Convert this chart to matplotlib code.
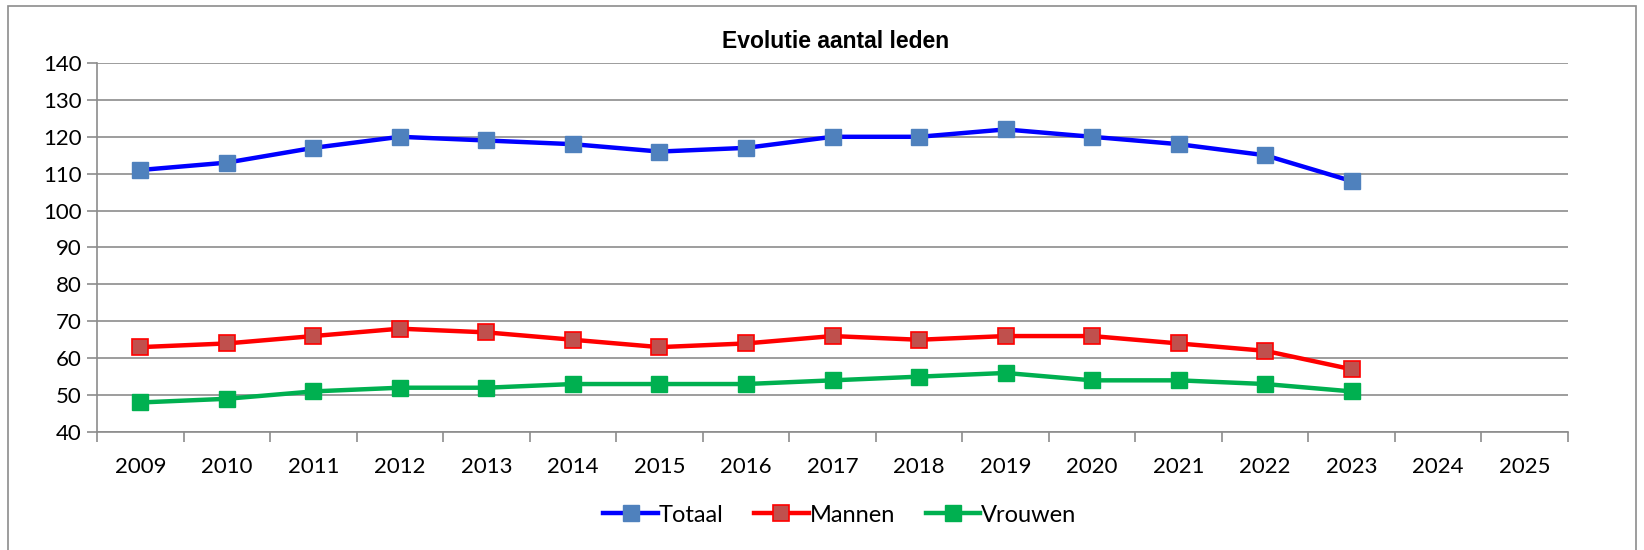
import matplotlib.pyplot as plt
from matplotlib.patches import Rectangle
from matplotlib.ticker import MultipleLocator

years = [2009, 2010, 2011, 2012, 2013, 2014, 2015, 2016, 2017, 2018, 2019, 2020, 2021, 2022, 2023, 2024, 2025]
totaal = [111, 113, 117, 120, 119, 118, 116, 117, 120, 120, 122, 120, 118, 115, 108]
mannen = [63, 64, 66, 68, 67, 65, 63, 64, 66, 65, 66, 66, 64, 62, 57]
vrouwen = [48, 49, 51, 52, 52, 53, 53, 53, 54, 55, 56, 54, 54, 53, 51]

W, H = 1644, 550
fig = plt.figure(figsize=(W / 100, H / 100), dpi=100)
ax = fig.add_axes([97 / W, 1 - 432 / H, (1568 - 97) / W, (432 - 63) / H])

# outer chart frame
fig.patches.append(Rectangle((8 / W, -0.01), (1636 - 8) / W, 1.01 - 6 / H,
                             transform=fig.transFigure, fill=False,
                             edgecolor='#8c8c8c', linewidth=1.2))

x = list(range(len(totaal)))
ax.plot(x, totaal, color='#0000ff', lw=3.2, marker='s', ms=11.5,
        mfc='#4f81bd', mec='#4f81bd', label='Totaal')
ax.plot(x, mannen, color='#ff0000', lw=3.2, marker='s', ms=11.5,
        mfc='#c0504d', mec='#ff0000', mew=1.2, label='Mannen')
ax.plot(x, vrouwen, color='#00b050', lw=3.2, marker='s', ms=11.5,
        mfc='#00b050', mec='#00b050', label='Vrouwen')

ax.set_xlim(-0.5, len(years) - 0.5)
ax.set_ylim(40, 140)
ax.yaxis.set_major_locator(MultipleLocator(10))
ax.set_xticks(range(len(years)))
ax.set_xticklabels([str(y) for y in years])
ax.set_xticks([i - 0.5 for i in range(len(years) + 1)], minor=True)
ax.tick_params(axis='x', which='major', length=0, pad=18, labelsize=16)
ax.tick_params(axis='x', which='minor', length=7, color='#8c8c8c', width=1.2)
ax.tick_params(axis='y', length=7, color='#8c8c8c', width=1.2, labelsize=16, pad=4)
for lab in ax.get_xticklabels() + ax.get_yticklabels():
    lab.set_fontfamily('Lato')

ax.grid(axis='y', color='#8c8c8c', lw=1.2)
ax.set_axisbelow(True)
for s in ['top', 'right']:
    ax.spines[s].set_visible(False)
for s in ['left', 'bottom']:
    ax.spines[s].set_color('#8c8c8c')
    ax.spines[s].set_linewidth(1.2)

fig.text(836 / W, 1 - 42 / H, 'Evolutie aantal leden', ha='center', va='center',
         fontsize=16.5, fontweight='bold', fontfamily='Liberation Sans')

fig.legend(loc='center', bbox_to_anchor=(840 / W, 1 - 515 / H), ncol=3,
           frameon=False, prop={'family': 'Lato', 'size': 17},
           handlelength=2.3, handletextpad=0.05, columnspacing=1.3)

fig.savefig('out.png', dpi=100)
